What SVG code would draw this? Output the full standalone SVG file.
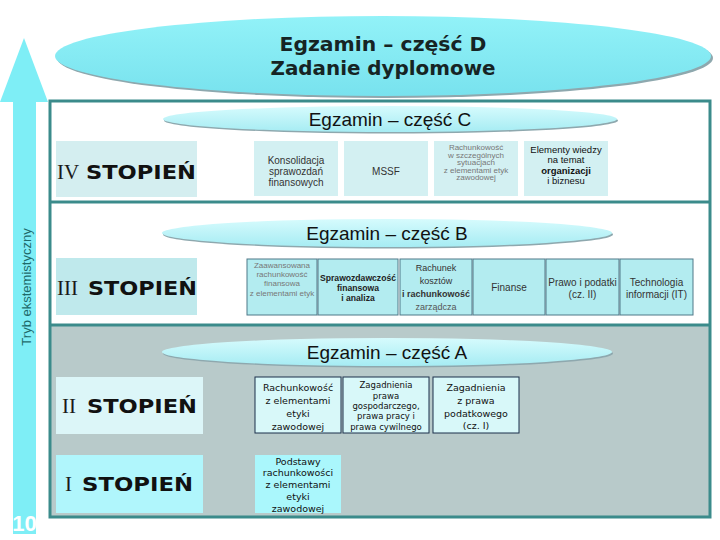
<svg xmlns="http://www.w3.org/2000/svg" width="720" height="540" viewBox="0 0 720 540">
<defs>
<linearGradient id="gSmall" x1="0" y1="0" x2="0" y2="1">
<stop offset="0" stop-color="#d6fbfd"/>
<stop offset="1" stop-color="#a6ecf3"/>
</linearGradient>
<linearGradient id="gBig" x1="0" y1="0" x2="0" y2="1">
<stop offset="0" stop-color="#92f2f8"/>
<stop offset="1" stop-color="#78e2ee"/>
</linearGradient>
<style>
.sh{fill:#8ea8ae}
.ex{font-family:"Liberation Sans",Arial,sans-serif;font-size:19px;fill:#111;text-anchor:middle}
.rom{font-family:"Liberation Serif","Times New Roman",serif;font-size:21px;fill:#1a1a1a}
.stp{font-family:"DejaVu Sans",Verdana,sans-serif;font-weight:bold;font-size:20px;fill:#111}
.b4{fill:#d3f0f2}
.b3{fill:#b3ecf0;stroke:#4f7888;stroke-width:1}
.bA{fill:#d8f8f9;stroke:#1b2f4a;stroke-width:1}
.bP{fill:#aaf7fc}
.t4{font-family:"Liberation Sans",Arial,sans-serif;font-size:10px;fill:#333;text-anchor:middle}
.t4s{font-family:"Liberation Sans",Arial,sans-serif;font-size:8px;fill:#777;text-anchor:middle}
.t4b{font-family:"Liberation Sans",Arial,sans-serif;font-size:10px;fill:#222;text-anchor:middle;font-weight:bold}
.tA{font-family:"DejaVu Sans",Verdana,sans-serif;font-size:9.5px;fill:#111;text-anchor:middle}
.tAs{font-family:"DejaVu Sans",Verdana,sans-serif;font-size:8.5px;fill:#111;text-anchor:middle}
</style>
</defs>
<rect x="0" y="0" width="720" height="540" fill="#ffffff"/>

<g id="arrow">
<polygon points="24,38 48,102 36,102 36,534 13,534 13,102 0,102" fill="#7eeef6"/>
<text transform="translate(31,287) rotate(-90)" font-family="Liberation Sans,Arial,sans-serif" font-size="13" fill="#1e6a6a" text-anchor="middle">Tryb ekstemistyczny</text>
<text x="24.5" y="531" font-family="Liberation Sans,Arial,sans-serif" font-size="22" font-weight="bold" fill="#ffffff" text-anchor="middle">10</text>
</g>

<g id="frame">
<rect x="50" y="101" width="660" height="416" fill="#ffffff"/>
<rect x="50" y="325" width="660" height="192" fill="#b8caca"/>
<rect x="50" y="101" width="660" height="416" fill="none" stroke="#3b8b8b" stroke-width="3"/>
<line x1="50" y1="202" x2="710" y2="202" stroke="#3b8b8b" stroke-width="3"/>
<line x1="50" y1="325" x2="710" y2="325" stroke="#3b8b8b" stroke-width="3"/>
</g>

<g id="exam-d">
<ellipse cx="385" cy="58" rx="328" ry="40" class="sh"/>
<ellipse cx="383" cy="56" rx="328" ry="40" fill="url(#gBig)"/>
<text x="383" y="51" font-family="DejaVu Sans,Verdana,sans-serif" font-weight="bold" font-size="19" fill="#162424" text-anchor="middle" textLength="207" lengthAdjust="spacingAndGlyphs">Egzamin – część D</text>
<text x="383" y="75" font-family="DejaVu Sans,Verdana,sans-serif" font-weight="bold" font-size="19" fill="#162424" text-anchor="middle" textLength="225" lengthAdjust="spacingAndGlyphs">Zadanie dyplomowe</text>
</g>

<g id="exam-c">
<ellipse cx="391" cy="120.5" rx="227" ry="13" class="sh"/>
<ellipse cx="390" cy="119" rx="227" ry="13" fill="url(#gSmall)"/>
<text x="390" y="126" class="ex">Egzamin – część C</text>
</g>
<g id="exam-b">
<ellipse cx="388" cy="234.5" rx="225" ry="14" class="sh"/>
<ellipse cx="387" cy="233" rx="225" ry="14" fill="url(#gSmall)"/>
<text x="387" y="240" class="ex">Egzamin – część B</text>
</g>
<g id="exam-a">
<ellipse cx="388" cy="353.5" rx="225" ry="14" class="sh"/>
<ellipse cx="387" cy="352" rx="225" ry="14" fill="url(#gSmall)"/>
<text x="387" y="359" class="ex">Egzamin – część A</text>
</g>

<g id="level-4">
<rect x="56" y="141" width="141" height="56" fill="#d4eef0"/>
<text x="57" y="179" class="rom" fill="#333">IV</text>
<text x="86" y="179" class="stp" textLength="110" lengthAdjust="spacingAndGlyphs">STOPIEŃ</text>
</g>
<g id="level-3">
<rect x="56" y="258" width="141" height="57" fill="#bfe9ec"/>
<text x="57" y="295" class="rom">III</text>
<text x="88" y="295" class="stp" textLength="109" lengthAdjust="spacingAndGlyphs">STOPIEŃ</text>
</g>
<g id="level-2">
<rect x="56" y="377" width="147" height="57" fill="#dcf6f8"/>
<text x="62" y="413" class="rom">II</text>
<text x="87" y="413" class="stp" textLength="110" lengthAdjust="spacingAndGlyphs">STOPIEŃ</text>
</g>
<g id="level-1">
<rect x="56" y="455" width="147" height="58" fill="#b0f6fc"/>
<text x="65" y="491" class="rom">I</text>
<text x="82" y="491" class="stp" textLength="111" lengthAdjust="spacingAndGlyphs">STOPIEŃ</text>
</g>

<g id="iv-konsolidacja">
<rect x="254" y="141" width="84" height="55" class="b4"/>
<text class="t4"><tspan x="296" y="163.5">Konsolidacja</tspan><tspan x="296" y="174.5">sprawozdań</tspan><tspan x="296" y="185.5">finansowych</tspan></text>
</g>
<g id="iv-mssf">
<rect x="344" y="141" width="84" height="55" class="b4"/>
<text x="386" y="174.5" class="t4">MSSF</text>
</g>
<g id="iv-rach-szczeg">
<rect x="434" y="141" width="84" height="55" class="b4"/>
<text class="t4s"><tspan x="476" y="150">Rachunkowość</tspan><tspan x="476" y="157.5">w szczególnych</tspan><tspan x="476" y="165">sytuacjach</tspan><tspan x="476" y="172.5">z elementami etyk</tspan><tspan x="476" y="180">zawodowej</tspan></text>
</g>
<g id="iv-elementy">
<rect x="524" y="141" width="84" height="55" class="b4"/>
<text class="t4" style="font-size:9.5px;fill:#111"><tspan x="566" y="152.5">Elementy wiedzy</tspan><tspan x="566" y="163">na temat</tspan><tspan x="566" y="173.5" font-weight="bold">organizacji</tspan><tspan x="566" y="184">i biznesu</tspan></text>
</g>

<g id="iii-zaawansowana">
<rect x="247" y="259" width="70" height="56" class="b3"/>
<text class="t4s"><tspan x="282" y="268">Zaawansowana</tspan><tspan x="282" y="277">rachunkowość</tspan><tspan x="282" y="286">finansowa</tspan><tspan x="282" y="296">z elementami etyk</tspan></text>
</g>
<g id="iii-sprawozdawczosc">
<rect x="318" y="259" width="80" height="56" class="b3"/>
<text class="t4b" style="font-size:8.6px"><tspan x="358" y="281">Sprawozdawczość</tspan><tspan x="358" y="291">finansowa</tspan><tspan x="358" y="301">i analiza</tspan></text>
</g>
<g id="iii-rachunek">
<rect x="400" y="259" width="72" height="56" class="b3"/>
<text class="t4" style="font-size:9px"><tspan x="436" y="271">Rachunek</tspan><tspan x="436" y="284">kosztów</tspan><tspan x="436" y="297" font-weight="bold">i rachunkowość</tspan><tspan x="436" y="310" fill="#555">zarządcza</tspan></text>
</g>
<g id="iii-finanse">
<rect x="473" y="259" width="72" height="56" class="b3"/>
<text x="509" y="290.5" class="t4">Finanse</text>
</g>
<g id="iii-prawo">
<rect x="546" y="259" width="73" height="56" class="b3"/>
<text class="t4"><tspan x="582.5" y="285.5">Prawo i podatki</tspan><tspan x="582.5" y="297.5">(cz. II)</tspan></text>
</g>
<g id="iii-it">
<rect x="620" y="259" width="73" height="56" class="b3"/>
<text class="t4"><tspan x="656.5" y="285.5">Technologia</tspan><tspan x="656.5" y="297.5">informacji (IT)</tspan></text>
</g>

<g id="ii-rachunkowosc">
<rect x="255" y="377" width="86" height="56" class="bA"/>
<text class="tA"><tspan x="298" y="390.5">Rachunkowość</tspan><tspan x="298" y="403.5">z elementami</tspan><tspan x="298" y="416.5">etyki</tspan><tspan x="298" y="429.5">zawodowej</tspan></text>
</g>
<g id="ii-prawo-gosp">
<rect x="343" y="377" width="86" height="56" class="bA"/>
<text class="tAs"><tspan x="386" y="388">Zagadnienia</tspan><tspan x="386" y="398.5">prawa</tspan><tspan x="386" y="409">gospodarczego,</tspan><tspan x="386" y="419">prawa pracy i</tspan><tspan x="386" y="429.5">prawa cywilnego</tspan></text>
</g>
<g id="ii-podatki">
<rect x="433" y="377" width="86" height="56" class="bA"/>
<text class="tA"><tspan x="476" y="390.5">Zagadnienia</tspan><tspan x="476" y="403.5">z prawa</tspan><tspan x="476" y="416.5">podatkowego</tspan><tspan x="476" y="429">(cz. I)</tspan></text>
</g>
<g id="i-podstawy">
<rect x="255" y="455" width="86" height="58" class="bP"/>
<text class="tA"><tspan x="298" y="464.5">Podstawy</tspan><tspan x="298" y="476">rachunkowości</tspan><tspan x="298" y="488">z elementami</tspan><tspan x="298" y="499.5">etyki</tspan><tspan x="298" y="511.5">zawodowej</tspan></text>
</g>
<g id="connectors"></g>
</svg>
